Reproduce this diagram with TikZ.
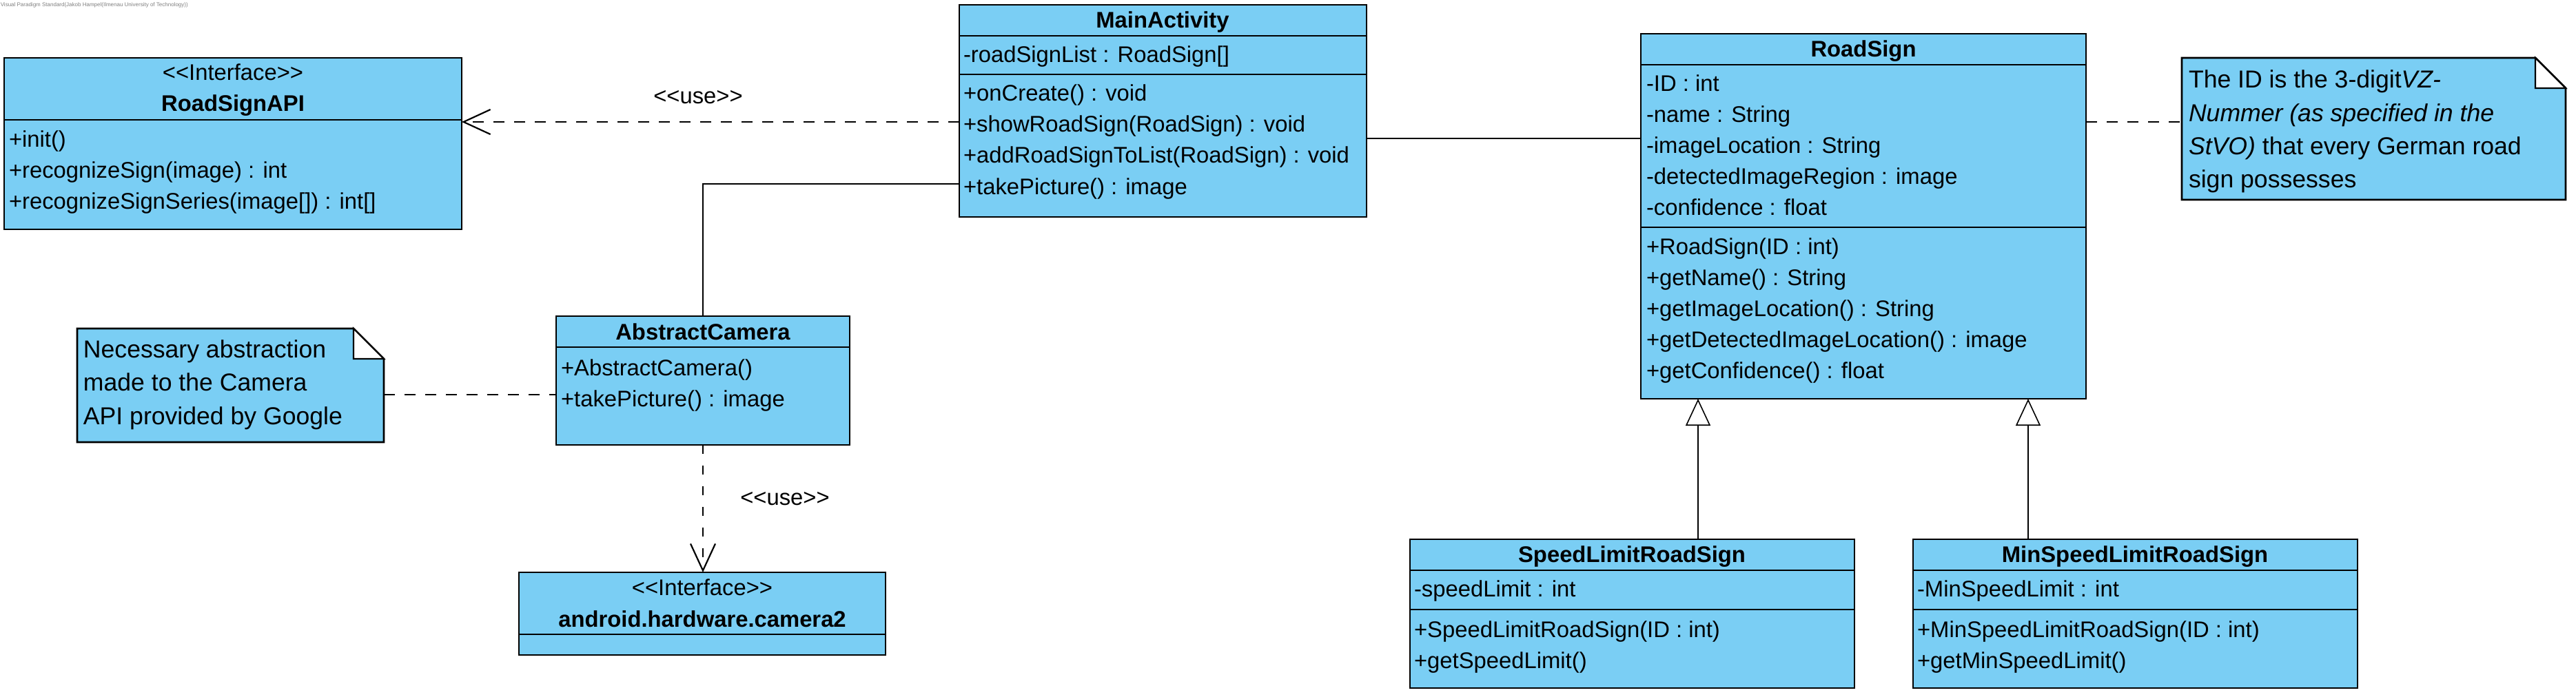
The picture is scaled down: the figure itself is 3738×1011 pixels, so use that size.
\documentclass[tikz,border=0pt]{standalone}
\usepackage{fontspec}
\setmainfont{Liberation Sans}
\usetikzlibrary{arrows.meta}
\definecolor{umlblue}{RGB}{122,206,244}
\newcommand\stereo[1]{<\kern0pt<#1>\kern0pt>}
\newcommand\classbox[5]{%
  \node[cls, minimum width={(#4-#2)*0.25pt}, minimum height={(#5-#3)*0.25pt}] (#1) at ({(#2+#4)/2},{(#3+#5)/2}) {};}
\newcommand\notebox[5]{%
  \node[inner sep=0pt, outer sep=0pt, minimum width={(#4-#2)*0.25pt}, minimum height={(#5-#3)*0.25pt}] (#1) at ({(#2+#4)/2},{(#3+#5)/2}) {};
  \draw[line width=0.7pt, fill=umlblue] (#1.north west) -- ([xshift=-11pt]#1.north east) -- ([yshift=-11pt]#1.north east) -- (#1.south east) -- (#1.south west) -- cycle;
  \draw[line width=0.6pt, fill=white] ([xshift=-11pt]#1.north east) -- ([xshift=-11pt,yshift=-11pt]#1.north east) -- ([yshift=-11pt]#1.north east) -- cycle;}
\tikzset{
  cls/.style={draw, line width=0.7pt, fill=umlblue, inner sep=0pt, outer sep=0pt},
  divider/.style={line width=0.7pt},
  txt/.style={inner sep=0pt, outer sep=0pt, font=\fontsize{8.2}{10}\selectfont, text height=6.1pt, text depth=1.8pt},
  clsname/.style={txt, font=\fontsize{8.2}{10}\selectfont\bfseries},
  ntxt/.style={inner sep=0pt, outer sep=0pt, font=\fontsize{8.9}{11}\selectfont, text height=6.6pt, text depth=2pt, anchor=west},
  assoc/.style={line width=0.55pt},
  dep/.style={line width=0.55pt, dash pattern=on 4pt off 3.5pt, -{Straight Barb[length=9.75pt, width=9pt]}},
  notelink/.style={line width=0.55pt, dash pattern=on 4pt off 3.5pt},
  gen/.style={line width=0.4pt, -{Triangle[length=9.75pt, width=9pt, fill=white]}},
}
\begin{document}
\begin{tikzpicture}[x=0.25pt, y=-0.25pt]
\useasboundingbox (0,0) rectangle (3738,1011);

% watermark
\node[inner sep=0pt, anchor=west, text=gray, font=\fontsize{2}{2.4}\selectfont] (wm) at (0,7) {Visual Paradigm Standard(Jakob Hampel(Ilmenau University of Technology))};

% RoadSignAPI
\classbox{api}{6}{84}{670}{333}
\draw[divider] (6,174) -- (670,174);
\node[txt] (api-st) at (338,108) {\stereo{Interface}};
\node[clsname] (api-n) at (338,153) {RoadSignAPI};
\node[txt, anchor=west] (api-o1) at (13,205) {+init()};
\node[txt, anchor=west] (api-o2) at (13,250) {+recognizeSign(image) : int};
\node[txt, anchor=west] (api-o3) at (13,295) {+recognizeSignSeries(image[]) : int[]};

% MainActivity
\classbox{main}{1392}{7}{1983}{315}
\draw[divider] (1392,52) -- (1983,52);
\draw[divider] (1392,108) -- (1983,108);
\node[clsname] (main-n) at (1687,32) {MainActivity};
\node[txt, anchor=west] (main-a1) at (1398,82) {-roadSignList : RoadSign[]};
\node[txt, anchor=west] (main-o1) at (1398,138) {+onCreate() : void};
\node[txt, anchor=west] (main-o2) at (1398,183) {+showRoadSign(RoadSign) : void};
\node[txt, anchor=west] (main-o3) at (1398,228) {+addRoadSignToList(RoadSign) : void};
\node[txt, anchor=west] (main-o4) at (1398,274) {+takePicture() : image};

% RoadSign
\classbox{rs}{2381}{49}{3027}{579}
\draw[divider] (2381,94) -- (3027,94);
\draw[divider] (2381,330) -- (3027,330);
\node[clsname] (rs-n) at (2704,74) {RoadSign};
\node[txt, anchor=west] (rs-a1) at (2389,124) {-ID : int};
\node[txt, anchor=west] (rs-a2) at (2389,169) {-name : String};
\node[txt, anchor=west] (rs-a3) at (2389,214) {-imageLocation : String};
\node[txt, anchor=west] (rs-a4) at (2389,259) {-detectedImageRegion : image};
\node[txt, anchor=west] (rs-a5) at (2389,304) {-confidence : float};
\node[txt, anchor=west] (rs-o1) at (2389,361) {+RoadSign(ID : int)};
\node[txt, anchor=west] (rs-o2) at (2389,406) {+getName() : String};
\node[txt, anchor=west] (rs-o3) at (2389,451) {+getImageLocation() : String};
\node[txt, anchor=west] (rs-o4) at (2389,496) {+getDetectedImageLocation() : image};
\node[txt, anchor=west] (rs-o5) at (2389,541) {+getConfidence() : float};

% Note right
\notebox{noteR}{3166}{84}{3723}{290}
\node[ntxt] (noteR-1) at (3176,118) {The ID is the 3-digit\textit{VZ-}};
\node[ntxt] (noteR-2) at (3176,167) {\textit{Nummer (as specified in the}};
\node[ntxt] (noteR-3) at (3176,215) {\textit{StVO)} that every German road};
\node[ntxt] (noteR-4) at (3176,263) {sign possesses};

% AbstractCamera
\classbox{cam}{807}{459}{1233}{646}
\draw[divider] (807,504) -- (1233,504);
\node[clsname] (cam-n) at (1020,485) {AbstractCamera};
\node[txt, anchor=west] (cam-o1) at (814,537) {+AbstractCamera()};
\node[txt, anchor=west] (cam-o2) at (814,582) {+takePicture() : image};

% Note left
\notebox{noteL}{112}{477}{557}{642}
\node[ntxt] (noteL-1) at (121,510) {Necessary abstraction};
\node[ntxt] (noteL-2) at (121,558) {made to the Camera};
\node[ntxt] (noteL-3) at (121,607) {API provided by Google};

% android.hardware.camera2
\classbox{cam2}{753}{831}{1285}{951}
\draw[divider] (753,921) -- (1285,921);
\node[txt] (cam2-st) at (1019,856) {\stereo{Interface}};
\node[clsname] (cam2-n) at (1019,902) {android.hardware.camera2};

% SpeedLimitRoadSign
\classbox{sl}{2046}{783}{2691}{999}
\draw[divider] (2046,828) -- (2691,828);
\draw[divider] (2046,885) -- (2691,885);
\node[clsname] (sl-n) at (2368,808) {SpeedLimitRoadSign};
\node[txt, anchor=west] (sl-a1) at (2052,858) {-speedLimit : int};
\node[txt, anchor=west] (sl-o1) at (2052,917) {+SpeedLimitRoadSign(ID : int)};
\node[txt, anchor=west] (sl-o2) at (2052,962) {+getSpeedLimit()};

% MinSpeedLimitRoadSign
\classbox{msl}{2776}{783}{3421}{999}
\draw[divider] (2776,828) -- (3421,828);
\draw[divider] (2776,885) -- (3421,885);
\node[clsname] (msl-n) at (3098,808) {MinSpeedLimitRoadSign};
\node[txt, anchor=west] (msl-a1) at (2782,858) {-MinSpeedLimit : int};
\node[txt, anchor=west] (msl-o1) at (2782,917) {+MinSpeedLimitRoadSign(ID : int)};
\node[txt, anchor=west] (msl-o2) at (2782,962) {+getMinSpeedLimit()};

% connectors
\draw[dep] (main.west |- 0,177) -- (api.east |- 0,177);
\node[txt] (use1) at (1013,142) {\stereo{use}};
\draw[assoc] (main.west |- 0,267) -| (cam.north);
\draw[assoc] (main.east |- 0,201) -- (rs.west |- 0,201);
\draw[notelink] (rs.east |- 0,177) -- (noteR.west |- 0,177);
\draw[notelink] (noteL.east |- 0,573) -- (cam.west |- 0,573);
\draw[dep, dash pattern=on 3.3pt off 4.2pt] (cam.south) -- (cam.south |- cam2.north);
\node[txt] (use2) at (1139,725) {\stereo{use}};
\draw[gen] (sl.north -| 2464,0) -- (rs.south -| 2464,0);
\draw[gen] (msl.north -| 2943,0) -- (rs.south -| 2943,0);
\end{tikzpicture}
\end{document}
